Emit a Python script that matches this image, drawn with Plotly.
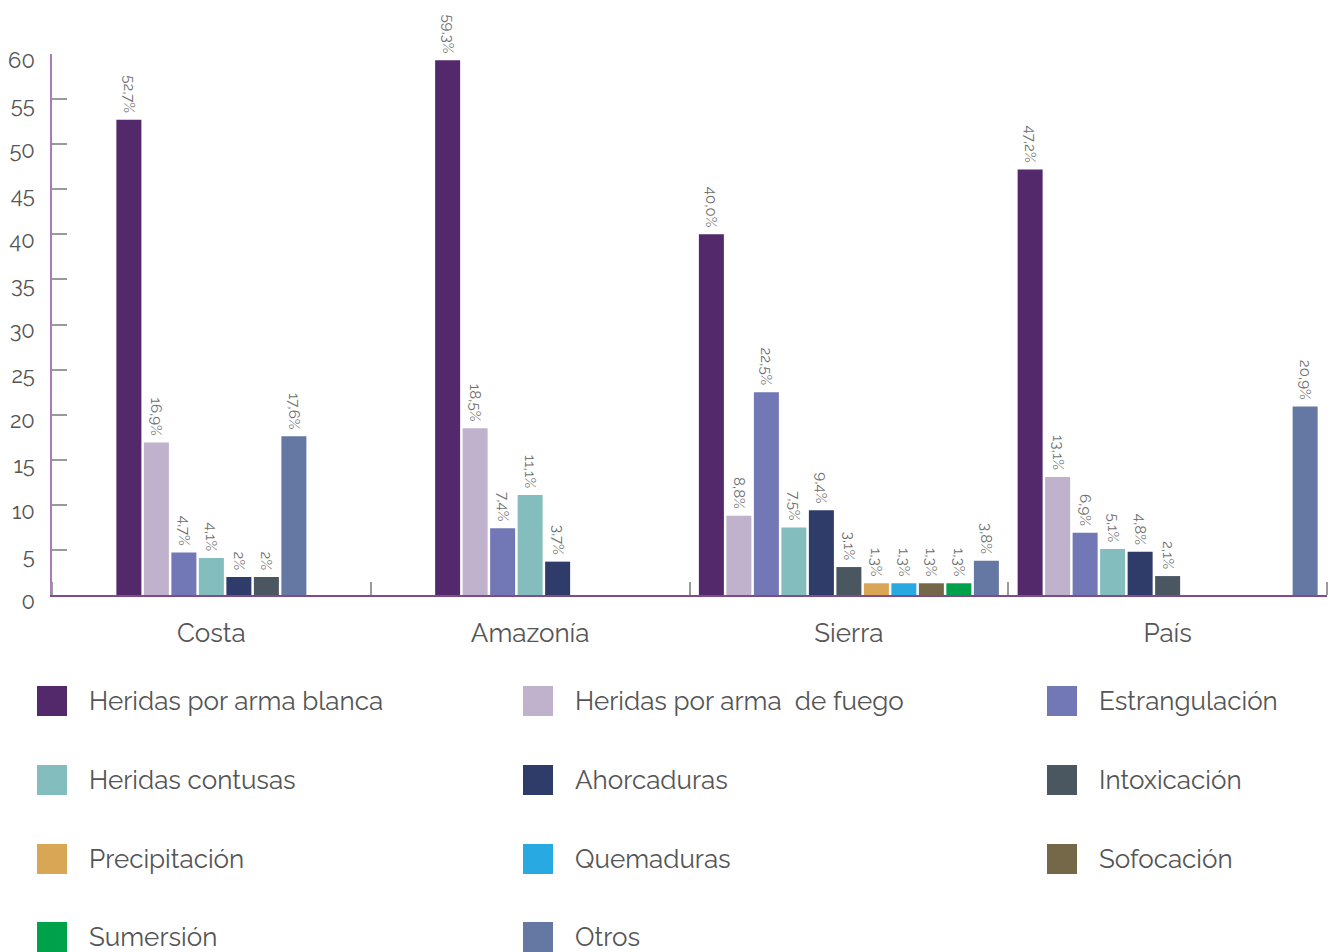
import plotly.graph_objects as go

# Regions on the x axis
categories = ["Costa", "Amazonía", "Sierra", "País"]
# Number of bar slots each region's group uses
slot_counts = [7, 7, 11, 11]

series_names = [
    "Heridas por arma blanca",
    "Heridas por arma\u00a0 de fuego",
    "Estrangulación",
    "Heridas contusas",
    "Ahorcaduras",
    "Intoxicación",
    "Precipitación",
    "Quemaduras",
    "Sofocación",
    "Sumersión",
    "Otros",
]
series_colors = [
    "#53296b", "#c0b1cc", "#7277b6", "#83bdbe", "#2f3c6a", "#4a5760",
    "#d8a654", "#29a9e1", "#756848", "#00a14b", "#6578a3",
]

# Percent values per series, in region order (None = no bar)
arma_blanca = [52.7, 59.3, 40.0, 47.2]
arma_fuego = [16.9, 18.5, 8.8, 13.1]
estrangulacion = [4.7, 7.4, 22.5, 6.9]
contusas = [4.1, 11.1, 7.5, 5.1]
ahorcaduras = [2, 3.7, 9.4, 4.8]
intoxicacion = [2, None, 3.1, 2.1]
precipitacion = [None, None, 1.3, None]
quemaduras = [None, None, 1.3, None]
sofocacion = [None, None, 1.3, None]
sumersion = [None, None, 1.3, None]
otros = [17.6, None, 3.8, 20.9]

series_values = [arma_blanca, arma_fuego, estrangulacion, contusas,
                 ahorcaduras, intoxicacion, precipitacion, quemaduras,
                 sofocacion, sumersion, otros]

W, H = 1338, 952
PLOT_L, PLOT_R, PLOT_T, PLOT_B = 52, 1327, 54, 595
unit_px = (PLOT_R - PLOT_L) / len(categories)
pitch = 27.5 / unit_px
bar_w = 25 / unit_px

FONT = "Raleway, Lato, 'Open Sans', sans-serif"


def fmt(v):
    if isinstance(v, int):
        s = f"{v}%"
    else:
        s = f"{v:.1f}".replace(".", ",") + "%"
    # trailing gap keeps the rotated label off the bar top
    return s + "\u00a0"


fig = go.Figure()
for i, (name, vals) in enumerate(zip(series_names, series_values)):
    xs, ys, txt = [], [], []
    for r, v in enumerate(vals):
        if v is None:
            continue
        n = slot_counts[r]
        slot = i if i < n - 1 else n - 1
        xs.append(r + (slot - (n - 1) / 2) * pitch)
        ys.append(v)
        txt.append(fmt(v))
    fig.add_trace(go.Bar(x=xs, y=ys, name=name, width=bar_w,
                         marker_color=series_colors[i], marker_line_width=0,
                         text=txt, textposition="outside", textangle=90,
                         constraintext="none", cliponaxis=False,
                         textfont=dict(family=FONT, size=15, color="#707070"),
                         showlegend=False))

fig.update_xaxes(range=[-0.5, len(categories) - 0.5],
                 tickvals=list(range(len(categories))), ticktext=categories,
                 ticks="", showgrid=False, zeroline=False, automargin=False,
                 showline=True, linecolor="#7d4c8f", linewidth=1.5,
                 tickfont=dict(family=FONT, size=26, color="#555555"),
                 ticklabelstandoff=14,
                 minor=dict(tick0=0.5, dtick=1, ticks="inside", ticklen=13,
                            tickcolor="#9a9a9a", tickwidth=1.5, showgrid=False))
fig.update_yaxes(range=[0, 60], dtick=5, showgrid=False, zeroline=False,
                 automargin=False,
                 showline=True, linecolor="#a97bbb", linewidth=1.5,
                 ticks="inside", ticklen=15, tickcolor="#9a9a9a", tickwidth=1.5,
                 tickfont=dict(family=FONT, size=22, color="#555555"),
                 ticklabelstandoff=11, ticklabelshift=6)

# Legend drawn as squares + labels, 3 columns
shapes, annotations = [], []
col_x = [37, 523, 1047]
row_y = [701, 780, 859, 937]
ph = PLOT_B - PLOT_T
pw = PLOT_R - PLOT_L
for i, name in enumerate(series_names):
    cx = col_x[i % 3]
    cy = row_y[i // 3]
    shapes.append(dict(type="rect", xref="paper", yref="paper",
                       x0=(cx - PLOT_L) / pw, x1=(cx + 30 - PLOT_L) / pw,
                       y0=(PLOT_B - cy - 15) / ph, y1=(PLOT_B - cy + 15) / ph,
                       fillcolor=series_colors[i], line_width=0))
    annotations.append(dict(xref="paper", yref="paper",
                            x=(cx + 50 - PLOT_L) / pw, y=(PLOT_B - cy) / ph,
                            xanchor="left", yanchor="middle", showarrow=False,
                            text=name,
                            font=dict(family=FONT, size=26, color="#555555")))

fig.update_layout(width=W, height=H, barmode="overlay",
                  margin=dict(l=PLOT_L, r=W - PLOT_R, t=PLOT_T, b=H - PLOT_B,
                              pad=0),
                  plot_bgcolor="white", paper_bgcolor="white",
                  shapes=shapes, annotations=annotations)

fig.write_html("out.html", config={"displayModeBar": False},
               post_script="document.body.style.margin='0';"
                           "document.body.style.overflow='hidden';")
